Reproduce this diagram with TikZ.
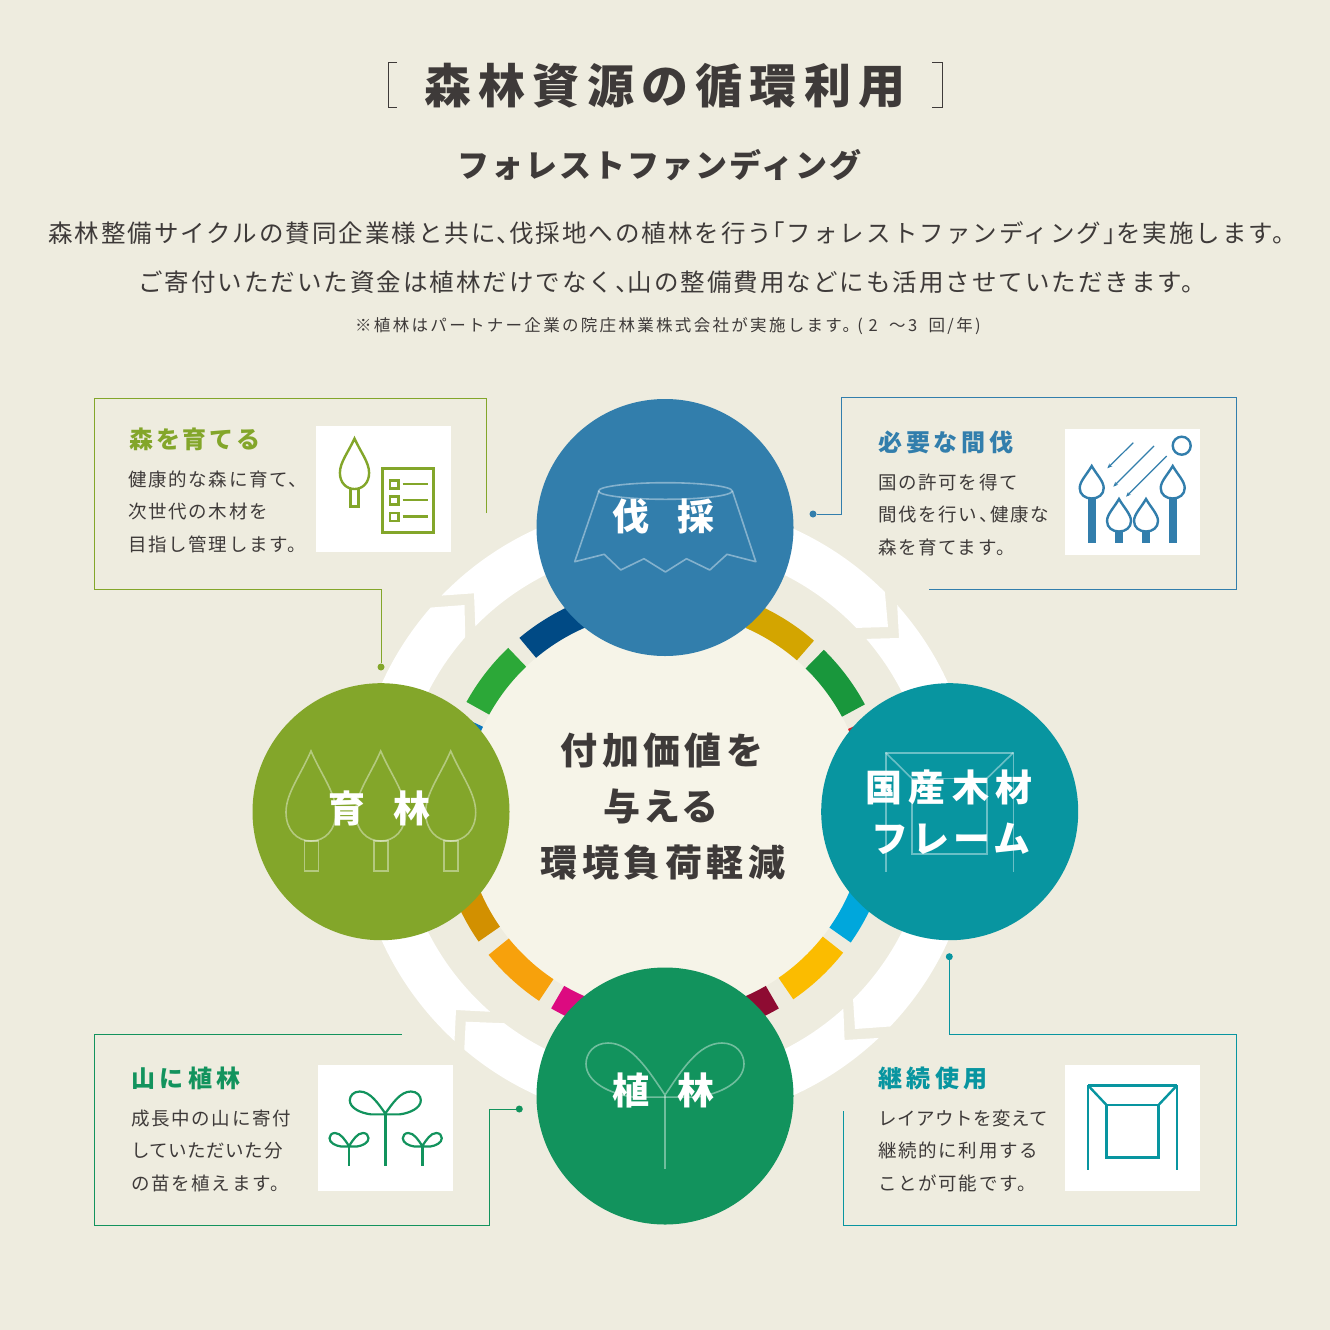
\documentclass[tikz,border=0pt]{standalone}
\usepackage{fontspec}
\usepackage{tikz}
\usetikzlibrary{arrows.meta}
\newfontfamily\jpfont{Noto Sans CJK JP}
\definecolor{paper}{RGB}{238,236,223}
\definecolor{disc}{RGB}{246,244,232}
\definecolor{ink}{RGB}{62,58,57}
\definecolor{cutblue}{RGB}{50,126,172}
\definecolor{growgreen}{RGB}{131,166,42}
\definecolor{plantgreen}{RGB}{18,147,93}
\definecolor{frameteal}{RGB}{8,149,160}
\definecolor{sdgnavy}{RGB}{0,74,133}
\definecolor{sdggreen}{RGB}{44,168,56}
\definecolor{sdgblue}{RGB}{10,120,190}
\definecolor{sdggold}{RGB}{211,165,0}
\definecolor{sdgforest}{RGB}{25,151,60}
\definecolor{sdgred}{RGB}{216,35,42}
\definecolor{sdgcyan}{RGB}{0,167,220}
\definecolor{sdgyellow}{RGB}{251,188,0}
\definecolor{sdgmaroon}{RGB}{142,11,50}
\definecolor{sdgpink}{RGB}{220,10,128}
\definecolor{sdgorange}{RGB}{247,161,12}
\definecolor{sdgochre}{RGB}{210,144,0}
\tikzset{
  hub/.style={circle,inner sep=0pt,minimum size=257pt},
  hubtext/.style={white,inner sep=0pt,anchor=base,font=\jpfont\bfseries\fontsize{37}{37}\selectfont\addfontfeature{LetterSpace=#1}},
  hubtext/.default=10,
  centertext/.style={ink,inner sep=0pt,anchor=base,font=\jpfont\bfseries\fontsize{37}{37}\selectfont\addfontfeature{LetterSpace=#1}},
  centertext/.default=12,
  headtext/.style={inner sep=0pt,anchor=base west,font=\jpfont\bfseries\fontsize{24}{24}\selectfont\addfontfeature{LetterSpace=#1}},
  headtext/.default=12,
  bodytext/.style={ink,inner sep=0pt,anchor=base west,align=left,font=\jpfont\fontsize{18.5}{32.4}\selectfont\addfontfeature{LetterSpace=9}},
  leadtext/.style={ink,inner sep=0pt,anchor=base west,font=\jpfont\fontsize{24.5}{24.5}\selectfont\addfontfeature{LetterSpace=8.2}},
  frameline/.style={line width=1pt},
  leaddot/.style={circle,inner sep=0pt,minimum size=7pt},
  iconbox/.style={fill=white},
  ghost/.style={white,opacity=.4,line width=1.6pt},
}
\newcommand{\sdgseg}[2]{\fill[#1] (#2:201) arc[start angle=#2,delta angle=17.3,radius=201pt]
  -- ({#2+17.3}:227) arc[start angle={#2+17.3},delta angle=-17.3,radius=227pt] -- cycle;}
\newcommand{\whiteband}[8]{\fill[white] (#1:311) -- (#2,#3) -- (#4:265.5)
  arc[start angle=#4,end angle=#5,radius=265.5pt] -- (#6,#7) -- (#8:311)
  arc[start angle=#8,end angle=#1,radius=311pt] -- cycle;}
\newcommand{\leafdrop}[5][]{\draw[#1,shift={(#2,#3)},xscale=#4,yscale=#5] (0,0)
  .. controls (-.42,.27) and (-1,.47) .. (-1,.68) .. controls (-1,.88) and (-.55,1) .. (0,1)
  .. controls (.55,1) and (1,.88) .. (1,.68) .. controls (1,.47) and (.42,.27) .. (0,0) -- cycle;}
\newcommand{\sproutleaves}[5][]{\draw[#1,shift={(#2,#3)},xscale=#4,yscale=#5] (0,0)
  .. controls (-.2,-.45) and (-.42,-1) .. (-.72,-1) .. controls (-.9,-1) and (-1,-.8) .. (-1,-.6)
  .. controls (-1,-.25) and (-.7,-.02) .. (-.4,.04) -- (.4,.04)
  .. controls (.7,-.02) and (1,-.25) .. (1,-.6) .. controls (1,-.8) and (.9,-1) .. (.72,-1)
  .. controls (.42,-1) and (.2,-.45) .. (0,0);}

\begin{document}
\begin{tikzpicture}[x=1pt,y=-1pt,>={Stealth[length=5pt,width=4pt]}]
  \fill[paper] (0,0) rectangle (1330,1330);
  \useasboundingbox (0,0) rectangle (1330,1330);

  % heading
  \draw[ink,line width=1pt] (397,62.5) -- (388,62.5) -- (388,107) -- (397,107);
  \draw[ink,line width=1pt] (932,62.5) -- (942,62.5) -- (942,107) -- (932,107);
  \node[ink,inner sep=0pt,anchor=base west,font=\jpfont\bfseries\fontsize{47}{47}\selectfont\addfontfeature{LetterSpace=15.5}] (title) at (424,103) {森林資源の循環利用};
  \node[ink,inner sep=0pt,anchor=base west,font=\jpfont\bfseries\fontsize{32}{32}\selectfont\addfontfeature{LetterSpace=6.5}] (subtitle) at (457,177) {フォレストファンディング};
  \node[leadtext] (leadone) at (48,242) {森林整備サイクルの賛同企業様と共に、\kern-.5em 伐採地への植林を行う\kern-.48em「フォレストファンディング」\kern-.48em を実施します。};
  \node[leadtext] (leadtwo) at (138,291) {ご寄付いただいた資金は植林だけでなく、\kern-.5em 山の整備費用などにも活用させていただきます。};
  \node[ink,inner sep=0pt,anchor=base west,font=\jpfont\fontsize{16.5}{16.5}\selectfont\addfontfeature{LetterSpace=14}] (note) at (355,331) {※植林はパートナー企業の院庄林業株式会社が実施します。\kern-.1em(\,\,2\,\, ～3\,\, 回/年)};

  % ring behind the four circles
  \begin{scope}[shift={(665,812)},x=1pt,y=1pt]
    \whiteband{135.9}{-191}{218.7}{135.6}{43.9}{223}{185}{45}
    \whiteband{41.7}{234}{174}{40.7}{-44.9}{190}{-217}{-43.6}
    \whiteband{-46.6}{179.6}{-228}{-47.8}{-127.3}{-199.3}{-209.7}{-130.2}
    \whiteband{-132.6}{-209}{-198}{-131.2}{-221.2}{-200.5}{207}{-221.1}
    \fill[disc] (0,0) circle[radius=201pt];
    \sdgseg{sdgnavy}{112.6}
    \sdgseg{sdggreen}{133.7}
    \sdgseg{sdgblue}{154.9}
    \sdgseg{sdggold}{49}
    \sdgseg{sdgforest}{28.3}
    \sdgseg{sdgred}{7.1}
    \sdgseg{sdgcyan}{-35.1}
    \sdgseg{sdgyellow}{-55.6}
    \sdgseg{sdgmaroon}{-77.2}
    \sdgseg{sdgpink}{-120.1}
    \sdgseg{sdgorange}{-141}
    \sdgseg{sdgochre}{-162.5}
  \end{scope}

  % center
  \node[centertext] (centerone) at (662,764) {付加価値を};
  \node[centertext=8] (centertwo) at (661,820) {与える};
  \node[centertext] (centerthree) at (663,876) {環境負荷軽減};

  % circles
  \node[hub,fill=cutblue] (hubcut) at (665,527.5) {};
  \node[hub,fill=growgreen] (hubgrow) at (381,811.7) {};
  \node[hub,fill=frameteal] (hubframe) at (949.7,811.7) {};
  \node[hub,fill=plantgreen] (hubplant) at (665,1096) {};

  % marks inside the circles
  \draw[ghost] (665.4,491) ellipse[x radius=66.8,y radius=8.3];
  \draw[ghost,line join=round] (598.9,491) -- (574.7,561.7) -- (604.2,554.3) -- (620.7,570) -- (644,558.7) -- (665.4,572)
    -- (686.5,558.7) -- (709.8,570) -- (727,554.3) -- (755.8,561.7) -- (732.4,491);
  \leafdrop[ghost]{311}{751}{25}{90}
  \leafdrop[ghost]{380.7}{751}{25}{90}
  \leafdrop[ghost]{450.7}{751}{25}{90}
  \draw[ghost] (304.3,841) rectangle (318.3,871);
  \draw[ghost] (373.7,841) rectangle (388,871);
  \draw[ghost] (443.7,841) rectangle (458,871);
  \draw[ghost] (885.7,871.7) -- (885.7,752.7) -- (1013.3,752.7) -- (1013.3,871.7);
  \draw[ghost] (911.7,778.3) rectangle (987,854);
  \draw[ghost] (885.7,752.7) -- (911.7,778.3);
  \draw[ghost] (1013.3,752.7) -- (987,778.3);
  \sproutleaves[ghost]{665}{1095}{79}{52}
  \draw[ghost] (665,1095) -- (665,1169.3);

  % circle labels
  \node[hubtext] (labelcut) at (663.5,530) {伐\hspace{28pt}採};
  \node[hubtext] (labelgrow) at (379.5,822) {育\hspace{28pt}林};
  \node[hubtext] (labelplant) at (663.5,1104) {植\hspace{28pt}林};
  \node[hubtext=17] (labelframeone) at (949,801) {国産木材};
  \node[hubtext=11] (labelframetwo) at (951,852) {フレーム};

  % callout frames
  \coordinate (frameendA) at (486,513);
  \node[leaddot,fill=growgreen] (dotA) at (381,667) {};
  \draw[frameline,growgreen] (frameendA) |- (94.5,398) -- (94.5,589.5) -| (dotA);
  \coordinate (frameendB) at (929,589.5);
  \node[leaddot,fill=cutblue] (dotB) at (813,514) {};
  \draw[frameline,cutblue] (dotB) -| (841.5,397.5) -- (1236.5,397.5) -- (1236.5,589.5) -- (frameendB);
  \coordinate (frameendC) at (402,1034.5);
  \node[leaddot,fill=plantgreen] (dotC) at (519.3,1109) {};
  \draw[frameline,plantgreen] (dotC) -| (489.5,1225.5) -- (94.5,1225.5) -- (94.5,1034.5) -- (frameendC);
  \coordinate (frameendD) at (843.5,1111);
  \node[leaddot,fill=frameteal] (dotD) at (949.3,956.7) {};
  \draw[frameline,frameteal] (dotD) |- (1236.5,1034.5) -- (1236.5,1225.5) -- (843.5,1225.5) -- (frameendD);

  % callout texts
  \node[headtext,growgreen] (headA) at (129,448) {森を育てる};
  \node[bodytext] (bodyA) at (128,551) {健康的な森に育て、\\次世代の木材を\\目指し管理します。};
  \node[headtext=16,cutblue] (headB) at (878,451) {必要な間伐};
  \node[bodytext] (bodyB) at (878,554) {国の許可を得て\\間伐を行い、\kern-.4em 健康な\\森を育てます。};
  \node[headtext=19,plantgreen] (headC) at (131,1087) {山に植林};
  \node[bodytext] (bodyC) at (131,1190) {成長中の山に寄付\\{\addfontfeature{LetterSpace=3}していただいた分}\\の苗を植えます。};
  \node[headtext=19,frameteal] (headD) at (878,1087) {継続使用};
  \node[bodytext] (bodyD) at (878,1190) {{\addfontfeature{LetterSpace=3}レイアウトを変えて}\\継続的に利用する\\ことが可能です。};

  % icon boxes
  \fill[iconbox] (316,426) rectangle (451,552);
  \fill[iconbox] (1065,429) rectangle (1200,555);
  \fill[iconbox] (318,1065) rectangle (453,1191);
  \fill[iconbox] (1065,1065) rectangle (1200,1191);

  % tree and list
  \leafdrop[growgreen,line width=2.4pt]{354.5}{438.5}{14.6}{50.5}
  \draw[growgreen,line width=2.4pt] (350.5,489) rectangle (358.5,506.5);
  \draw[growgreen,line width=3pt] (382.5,468.5) rectangle (433.5,532.5);
  \draw[growgreen,line width=2.6pt] (390,480.5) rectangle (398.5,488.5);
  \draw[growgreen,line width=2.6pt] (390,496.5) rectangle (398.5,504.5);
  \draw[growgreen,line width=2.6pt] (390,513) rectangle (398.5,521);
  \draw[growgreen,line width=2.4pt] (402.5,483.7) -- (428,483.7);
  \draw[growgreen,line width=2.4pt] (402.5,500) -- (428,500);
  \draw[growgreen,line width=2.4pt] (402.5,516.3) -- (428,516.3);

  % thinning
  \draw[cutblue,line width=2.4pt] (1181.7,445.7) circle[radius=9];
  \draw[->,cutblue,line width=1.2pt] (1133.3,442.7) -- (1107.3,468.3);
  \draw[->,cutblue,line width=1.2pt] (1154,446) -- (1113.3,486.7);
  \draw[->,cutblue,line width=1.2pt] (1166.7,456) -- (1126,496.7);
  \leafdrop[cutblue,line width=2.4pt]{1091.7}{466}{12}{32.5}
  \leafdrop[cutblue,line width=2.4pt]{1172.7}{466}{12}{32.5}
  \leafdrop[cutblue,line width=2.4pt]{1119}{499}{12}{32.5}
  \leafdrop[cutblue,line width=2.4pt]{1146}{499}{12}{32.5}
  \fill[cutblue] (1088,498.5) rectangle (1096,542.7);
  \fill[cutblue] (1169,498.5) rectangle (1177,542.7);
  \fill[cutblue] (1115,531.5) rectangle (1123.3,542.7);
  \fill[cutblue] (1142,531.5) rectangle (1150,542.7);

  % sprouts
  \sproutleaves[plantgreen,line width=2.2pt]{385.3}{1113.5}{35.5}{22}
  \draw[plantgreen,line width=2.8pt] (385.3,1113) -- (385.3,1165.7);
  \sproutleaves[plantgreen,line width=2.2pt]{349}{1146}{19.5}{13}
  \draw[plantgreen,line width=2.8pt] (349,1146) -- (349,1165.7);
  \sproutleaves[plantgreen,line width=2.2pt]{422.3}{1146}{19.5}{13}
  \draw[plantgreen,line width=2.8pt] (422.3,1146) -- (422.3,1165.7);

  % frame
  \draw[frameteal,line width=2.8pt] (1088.3,1085.7) -- (1176.7,1085.7);
  \draw[frameteal,line width=2pt] (1088.3,1085) -- (1088.3,1170);
  \draw[frameteal,line width=2pt] (1176.7,1085) -- (1176.7,1170);
  \draw[frameteal,line width=2.8pt] (1106.5,1105) rectangle (1158.5,1157.5);
  \draw[frameteal,line width=2.4pt] (1088.3,1085.7) -- (1106.5,1105);
  \draw[frameteal,line width=2.4pt] (1176.7,1085.7) -- (1158.5,1105);
\end{tikzpicture}
\end{document}
